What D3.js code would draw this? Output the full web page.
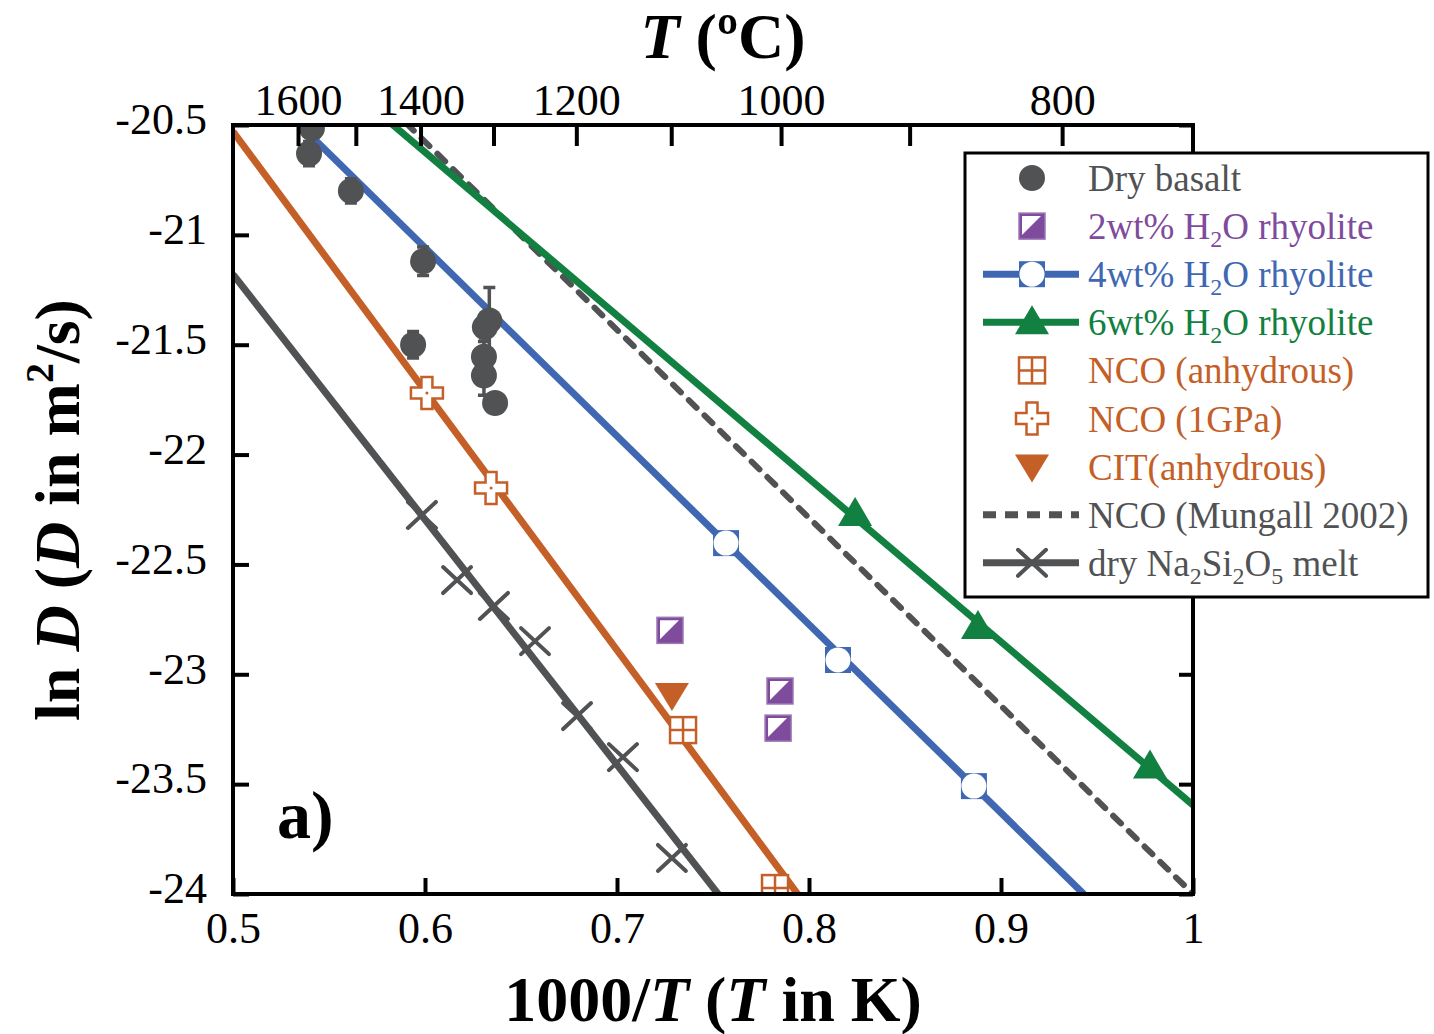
<!DOCTYPE html>
<html><head><meta charset="utf-8">
<script src="https://cdn.jsdelivr.net/npm/d3@7"></script>
<style>
body{margin:0;background:#fff}
svg{display:block}
text{font-family:"Liberation Serif","Times New Roman",serif}
</style>
</head><body>
<svg id="chart" width="1434" height="1034"></svg>
<script>
// ---- data: ln D versus 1000/T ----
const basaltX   = [0.5411, 0.5396, 0.5614, 0.5990, 0.5938, 0.6335, 0.6312, 0.6307, 0.6307, 0.6365];
const basaltY   = [-20.515, -20.63, -20.80, -21.12, -21.50, -21.39, -21.42, -21.555, -21.64, -21.765];
const basaltErr = [0.02, 0.055, 0.055, 0.065, 0.06, 0.15, 0.05, 0.07, 0.09, 0.03];

const rhy2X = [0.7276, 0.7849, 0.7839];
const rhy2Y = [-22.80, -23.076, -23.245];

const rhy4X = [0.7568, 0.8151, 0.8859];
const rhy4Y = [-22.403, -22.935, -23.509];
const rhy4FitX = [0.5, 1.0];
const rhy4FitY = [-20.201, -24.488];

const rhy6X = [0.8240, 0.8880, 0.9776];
const rhy6Y = [-22.27, -22.785, -23.42];
const rhy6FitX = [0.5, 1.0];
const rhy6FitY = [-19.881, -23.595];

const ncoAnhX = [0.7344, 0.7823];
const ncoAnhY = [-23.254, -23.973];
const nco1GPaX = [0.6010, 0.6344];
const nco1GPaY = [-21.72, -22.152];
const citX = [0.7286];
const citY = [-23.094];
const ncoFitX = [0.5, 1.0];
const ncoFitY = [-20.53, -26.43];

const mungallX = [0.5, 1.0];
const mungallY = [-19.72, -24.0];

const nsX = [0.5984, 0.6167, 0.6359, 0.6573, 0.6792, 0.7031, 0.7286];
const nsY = [-22.275, -22.571, -22.689, -22.849, -23.190, -23.377, -23.836];
const nsFitX = [0.5, 1.0];
const nsFitY = [-21.18, -26.76];

const xTicks = [0.5, 0.6, 0.7, 0.8, 0.9, 1];
const yTicks = [-20.5, -21, -21.5, -22, -22.5, -23, -23.5, -24];
const tempTicks = [1600, 1500, 1400, 1300, 1200, 1100, 1000, 900, 800];
const tempLabels = [1600, 1400, 1200, 1000, 800];

// ---- colours ----
const C = {
  gray: "#505254", purple: "#7f4b9d", blue: "#4068b2",
  green: "#118040", orange: "#c45f28", black: "#000"
};

const svg = d3.select("#chart");
const L = 233, R = 1193, T = 125, B = 894;
const x = d3.scaleLinear().domain([0.5, 1]).range([L, R]);
const y = d3.scaleLinear().domain([-20.5, -24]).range([T, B]);
const zip = (a, b) => a.map((v, i) => [v, b[i]]);

svg.append("defs").append("clipPath").attr("id", "plotClip")
  .append("rect").attr("x", L).attr("y", T).attr("width", R - L).attr("height", B - T);

const plot = svg.append("g").attr("clip-path", "url(#plotClip)");
const line = d3.line().x(d => x(d[0])).y(d => y(d[1]));

// fitted lines
plot.append("path").datum(zip(mungallX, mungallY)).attr("d", line)
  .attr("fill", "none").attr("stroke", C.gray).attr("stroke-width", 6)
  .attr("stroke-dasharray", "11 11").attr("stroke-linecap", "round");
plot.append("path").datum(zip(nsFitX, nsFitY)).attr("d", line)
  .attr("fill", "none").attr("stroke", C.gray).attr("stroke-width", 7);
plot.append("path").datum(zip(ncoFitX, ncoFitY)).attr("d", line)
  .attr("fill", "none").attr("stroke", C.orange).attr("stroke-width", 7);
plot.append("path").datum(zip(rhy4FitX, rhy4FitY)).attr("d", line)
  .attr("fill", "none").attr("stroke", C.blue).attr("stroke-width", 7);
plot.append("path").datum(zip(rhy6FitX, rhy6FitY)).attr("d", line)
  .attr("fill", "none").attr("stroke", C.green).attr("stroke-width", 7);

// ---- marker painters (drawn around the origin) ----
function mCircle(g, c) { g.append("circle").attr("r", 13).attr("fill", c); }
function mHalfSquare(g, c) {
  const s = 13;
  g.append("rect").attr("x", -s).attr("y", -s).attr("width", 2*s).attr("height", 2*s)
    .attr("fill", c).attr("stroke", "#9c77b4").attr("stroke-width", 1.5);
  g.append("path").attr("d", `M${-s+3},${-s+3}L${s-4},${-s+3}L${-s+3},${s-4}Z`).attr("fill", "#fff");
}
function mSquareCircle(g, c) {
  const s = 13;
  g.append("rect").attr("x", -s).attr("y", -s).attr("width", 2*s).attr("height", 2*s).attr("fill", c);
  g.append("circle").attr("r", 12.5).attr("fill", "#fff");
}
function mTriUp(g, c) {
  g.append("path").attr("d", "M0,-17L17,12L-17,12Z").attr("fill", c);
}
function mTriDown(g, c) {
  g.append("path").attr("d", "M-17,-12L17,-12L0,16Z").attr("fill", c);
}
function mGridSquare(g, c) {
  const s = 13;
  g.append("rect").attr("x", -s).attr("y", -s).attr("width", 2*s).attr("height", 2*s)
    .attr("fill", "#fff").attr("stroke", c).attr("stroke-width", 2.5);
  g.append("path").attr("d", `M0,${-s}V${s}M${-s},0H${s}`).attr("stroke", c).attr("stroke-width", 2.5);
}
function mOpenCross(g, c) {
  const a = 5.5, b = 16;
  g.append("path").attr("d",
    `M${-a},${-b}H${a}V${-a}H${b}V${a}H${a}V${b}H${-a}V${a}H${-b}V${-a}H${-a}Z`)
    .attr("fill", "#fff").attr("stroke", c).attr("stroke-width", 2.5);
  g.append("circle").attr("r", 1.5).attr("fill", c);
}
function mX(g, c) {
  g.append("path").attr("d", "M-14,-13L14,13M-14,13L14,-13")
    .attr("stroke", c).attr("stroke-width", 4).attr("stroke-linecap", "round");
}

function scatter(xs, ys, painter, color) {
  zip(xs, ys).forEach(d => {
    const g = plot.append("g").attr("transform", `translate(${x(d[0])},${y(d[1])})`);
    painter(g, color);
  });
}

// error bars for the basalt data
zip(basaltX, basaltY).forEach((d, i) => {
  const e = basaltErr[i];
  const cx = x(d[0]), y0 = y(d[1] + e), y1 = y(d[1] - e);
  plot.append("path").attr("d", `M${cx},${y0}V${y1}M${cx-6},${y0}H${cx+6}M${cx-6},${y1}H${cx+6}`)
    .attr("stroke", C.gray).attr("stroke-width", 3.5).attr("fill", "none");
});

scatter(nsX, nsY, mX, C.gray);
scatter(basaltX, basaltY, mCircle, C.gray);
scatter(nco1GPaX, nco1GPaY, mOpenCross, C.orange);
scatter(citX, citY, mTriDown, C.orange);
scatter(ncoAnhX, ncoAnhY, mGridSquare, C.orange);
scatter(rhy2X, rhy2Y, mHalfSquare, C.purple);
scatter(rhy4X, rhy4Y, mSquareCircle, C.blue);
scatter(rhy6X, rhy6Y, mTriUp, C.green);

// ---- axes ----
const tickFont = 44;
const axB = svg.append("g").attr("transform", `translate(0,${B})`)
  .call(d3.axisBottom(x).tickValues(xTicks).tickSize(-16).tickFormat(d3.format("")));
const axT = svg.append("g").attr("transform", `translate(0,${T})`)
  .call(d3.axisTop(x).tickValues(tempTicks.map(t => 1000 / (t + 273.15))).tickSize(-21)
    .tickFormat((d, i) => tempLabels.includes(tempTicks[i]) ? tempTicks[i] : ""));
const axL = svg.append("g").attr("transform", `translate(${L},0)`)
  .call(d3.axisLeft(y).tickValues(yTicks).tickSize(-16).tickFormat(d3.format("")).tickPadding(26));
const axR = svg.append("g").attr("transform", `translate(${R},0)`)
  .call(d3.axisRight(y).tickValues(yTicks).tickSize(-14).tickFormat(""));
[axB, axT, axL, axR].forEach(a => {
  a.select(".domain").remove();
  a.selectAll(".tick line").attr("stroke", C.black).attr("stroke-width", 4);
  a.selectAll(".tick text").attr("fill", C.black).attr("font-size", tickFont)
    .attr("font-family", "'Liberation Serif', serif");
});
axL.selectAll(".tick text").text(d => d3.format("")(d).replace("−", "-")).attr("dy", "0.2em");
axB.selectAll(".tick text").attr("y", 49).attr("dy", 0);
axT.selectAll(".tick text").attr("y", -10).attr("dy", 0);

svg.append("rect").attr("x", L).attr("y", T).attr("width", R - L).attr("height", B - T)
  .attr("fill", "none").attr("stroke", C.black).attr("stroke-width", 4);

// ---- titles ----
const xt = svg.append("text").attr("x", 713).attr("y", 1021).attr("text-anchor", "middle")
  .attr("font-size", 64).attr("font-weight", "bold");
xt.append("tspan").text("1000/");
xt.append("tspan").attr("font-style", "italic").text("T");
xt.append("tspan").text(" (");
xt.append("tspan").attr("font-style", "italic").text("T");
xt.append("tspan").text(" in K)");

const tt = svg.append("text").attr("x", 723).attr("y", 58).attr("text-anchor", "middle")
  .attr("font-size", 64).attr("font-weight", "bold");
tt.append("tspan").attr("font-style", "italic").text("T");
tt.append("tspan").text(" (ºC)");

const yt = svg.append("text").attr("transform", "translate(79,510) rotate(-90)")
  .attr("text-anchor", "middle").attr("font-size", 64).attr("font-weight", "bold");
yt.append("tspan").text("ln ");
yt.append("tspan").attr("font-style", "italic").text("D");
yt.append("tspan").text(" (");
yt.append("tspan").attr("font-style", "italic").text("D");
yt.append("tspan").text(" in m");
yt.append("tspan").attr("font-size", 40).attr("dy", -26).text("2");
yt.append("tspan").attr("dy", 26).text("/s)");

svg.append("text").attr("x", 277).attr("y", 838).attr("font-size", 68)
  .attr("font-weight", "bold").text("a)");

// ---- legend ----
const legendItems = [
  {parts: [["Dry basalt"]], color: C.gray, mark: mCircle, line: null},
  {parts: [["2wt% H"], ["2", "sub"], ["O rhyolite"]], color: C.purple, mark: mHalfSquare, line: null},
  {parts: [["4wt% H"], ["2", "sub"], ["O rhyolite"]], color: C.blue, mark: mSquareCircle, line: "solid"},
  {parts: [["6wt% H"], ["2", "sub"], ["O rhyolite"]], color: C.green, mark: mTriUp, line: "solid"},
  {parts: [["NCO (anhydrous)"]], color: C.orange, mark: mGridSquare, line: null},
  {parts: [["NCO (1GPa)"]], color: C.orange, mark: mOpenCross, line: null},
  {parts: [["CIT(anhydrous)"]], color: C.orange, mark: mTriDown, line: null},
  {parts: [["NCO (Mungall 2002)"]], color: C.gray, mark: null, line: "dash"},
  {parts: [["dry Na"], ["2", "sub"], ["Si"], ["2", "sub"], ["O"], ["5", "sub"], [" melt"]], color: C.gray, mark: mX, line: "solid"}
];
const lg = svg.append("g");
lg.append("rect").attr("x", 965).attr("y", 153).attr("width", 463).attr("height", 444)
  .attr("fill", "#fff").attr("stroke", C.black).attr("stroke-width", 3);
legendItems.forEach((it, i) => {
  const cy = 178 + i * 48.1;
  const row = lg.append("g");
  if (it.line) {
    row.append("line").attr("x1", 983).attr("x2", 1079).attr("y1", cy).attr("y2", cy)
      .attr("stroke", it.color).attr("stroke-width", 7)
      .attr("stroke-dasharray", it.line === "dash" ? "13 9" : null);
  }
  if (it.mark) {
    const g = row.append("g").attr("transform", `translate(1032,${cy})`);
    it.mark(g, it.color);
  }
  const t = row.append("text").attr("x", 1088).attr("y", cy + 13).attr("font-size", 37)
    .attr("fill", it.color);
  it.parts.forEach(p => {
    if (p[1] === "sub") {
      t.append("tspan").attr("font-size", 24).attr("dy", 8).text(p[0]);
    } else {
      const s = t.append("tspan").text(p[0]);
      if (t.selectAll("tspan").size() > 1) s.attr("dy", -8);
    }
  });
});
</script>
</body></html>
